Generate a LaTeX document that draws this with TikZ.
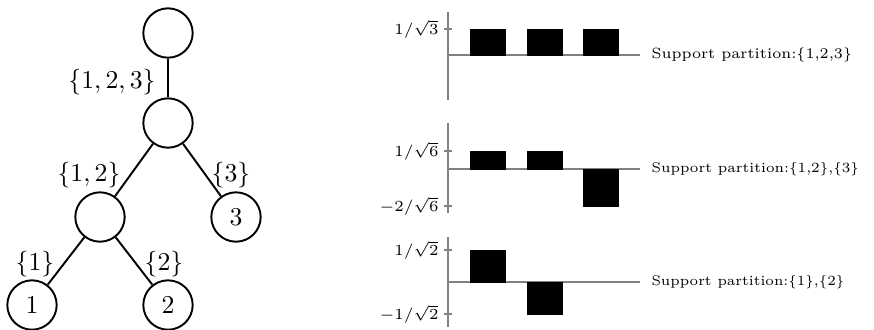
\documentclass[tikz,border=0pt]{standalone}
\usepackage{graphicx}
\usetikzlibrary{positioning}
\begin{document}
\begin{tikzpicture}[x=0.389pt,y=-0.389pt,
  tnode/.style={circle,draw=black,line width=0.75pt,minimum size=19.2pt,inner sep=0pt,font=\normalsize},
  tedge/.style={line width=0.75pt,black},
  elabel/.style={inner sep=0pt,font=\normalsize},
  axisline/.style={draw=gray,line width=0.75pt},
  bar/.style={fill=black,draw=black,line width=0.3pt},
  ticklab/.style={anchor=east,inner sep=0pt,font=\fontsize{6.3}{8}\selectfont},
  suplab/.style={anchor=west,inner sep=0pt,font=\fontsize{6.3}{8}\selectfont}]
\useasboundingbox (0,0) rectangle (874,329);
% tree
\node[tnode] (r) at (168,33) {};
\node[tnode] (m) at (168,123) {};
\node[tnode] (a) at (100,217) {};
\node[tnode] (n3) at (236,217) {3};
\node[tnode] (n1) at (32,305) {1};
\node[tnode] (n2) at (168,305) {2};
\draw[tedge] (r) -- (m);
\draw[tedge] (m) -- (a);
\draw[tedge] (m) -- (n3);
\draw[tedge] (a) -- (n1);
\draw[tedge] (a) -- (n2);
\node[elabel] (l123) at (112,82) {$\{1,2,3\}$};
\node[elabel] (l12) at (89,175) {$\{1,2\}$};
\node[elabel] (l3) at (231,175) {$\{3\}$};
\node[elabel] (l1) at (35,264) {$\{1\}$};
\node[elabel] (l2) at (164,264) {$\{2\}$};
% chart 1
\draw[axisline] (448,12) -- (448,100);
\draw[axisline] (448,55) -- (640,55);
\draw[axisline] (444,29) -- (452,29);
\fill[bar] (470,29) rectangle (505,55);
\fill[bar] (527,29) rectangle (562,55);
\fill[bar] (583,29) rectangle (618,55);
\node[ticklab] (t1) at (439,29) {$1/\sqrt{3}$};
\node[suplab] (s1) at (651,55) {\resizebox{78pt}{!}{Support partition:$\{$1,2,3$\}$}};
% chart 2
\draw[axisline] (448,123) -- (448,213);
\draw[axisline] (448,169) -- (640,169);
\draw[axisline] (444,151) -- (452,151);
\draw[axisline] (444,206) -- (452,206);
\fill[bar] (470,151) rectangle (505,169);
\fill[bar] (527,151) rectangle (562,169);
\fill[bar] (583,169) rectangle (618,206);
\node[ticklab] (t2a) at (439,151) {$1/\sqrt{6}$};
\node[ticklab] (t2b) at (439,206) {$-2/\sqrt{6}$};
\node[suplab] (s2) at (651,169) {\resizebox{80.7pt}{!}{Support partition:$\{$1,2$\}$,$\{$3$\}$}};
% chart 3
\draw[axisline] (448,237) -- (448,327);
\draw[axisline] (448,282) -- (640,282);
\draw[axisline] (444,250) -- (452,250);
\draw[axisline] (444,314) -- (452,314);
\fill[bar] (470,250) rectangle (505,282);
\fill[bar] (527,282) rectangle (562,314);
\node[ticklab] (t3a) at (439,250) {$1/\sqrt{2}$};
\node[ticklab] (t3b) at (439,314) {$-1/\sqrt{2}$};
\node[suplab] (s3) at (651,282) {\resizebox{75pt}{!}{Support partition:$\{$1$\}$,$\{$2$\}$}};
\end{tikzpicture}
\end{document}
